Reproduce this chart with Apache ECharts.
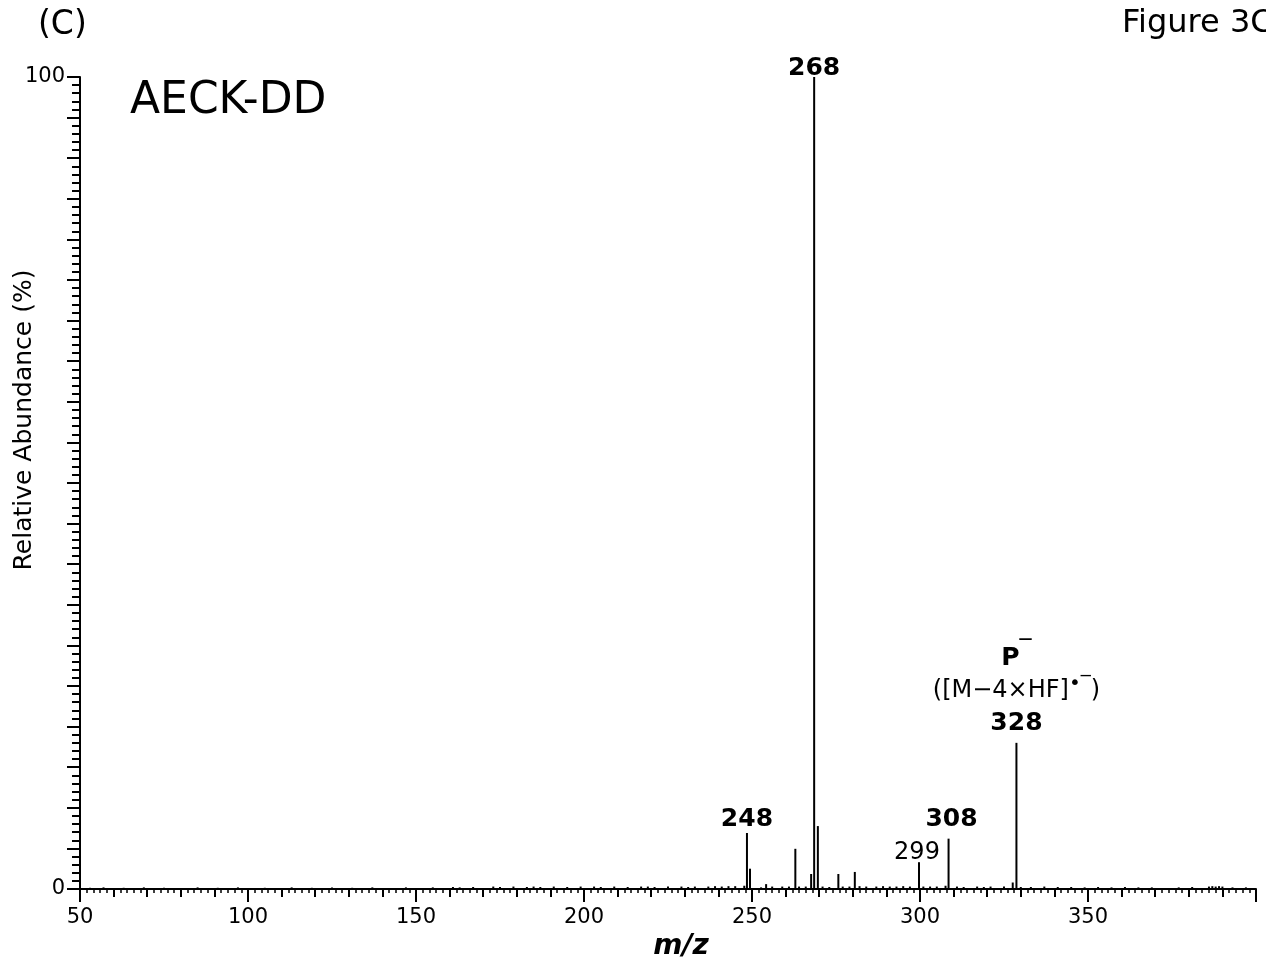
<!DOCTYPE html>
<html>
<head>
<meta charset="utf-8">
<script src="https://cdn.jsdelivr.net/npm/echarts@6/dist/echarts.min.js"></script>
<style>html,body{margin:0;padding:0;background:#fff}#c{width:1266px;height:967px}</style>
</head>
<body>
<div id="c"></div>
<script>
// Main peaks (m/z, relative abundance %)
var peakMz = [247.7, 248.5, 249.4, 252.7, 254.2, 262.9, 267.6, 268.5, 269.6, 275.7, 280.6, 299.7, 307.6, 308.5, 327.6, 328.7];
var peakAb = [0.4, 6.9, 2.5, 0.2, 0.6, 4.95, 1.85, 100, 7.75, 1.85, 2.1, 3.3, 0.4, 6.2, 0.8, 18.0];
// Small baseline noise peaks
var noiseMz = [53, 57, 63, 69, 75, 85, 91, 97, 105, 113, 119, 125, 131, 137, 147, 155, 161, 163, 167, 173, 175, 179, 183, 185, 187, 191, 195, 199, 203, 205, 209, 213, 217, 219, 221, 225, 229, 231, 233, 237, 239, 241, 243, 245, 256, 259, 261, 264, 266, 271, 273, 277, 279, 282, 284, 287, 289, 291, 293, 295, 297, 301, 303, 305, 311, 313, 317, 319, 321, 325, 330, 333, 337, 341, 345, 349, 353, 357, 361, 365, 369, 377, 381, 386, 387, 388, 389, 390, 393, 397];
var noiseAb = [0.15, 0.2, 0.15, 0.2, 0.15, 0.2, 0.15, 0.2, 0.15, 0.2, 0.15, 0.2, 0.15, 0.2, 0.2, 0.2, 0.25, 0.2, 0.25, 0.3, 0.25, 0.3, 0.25, 0.3, 0.25, 0.3, 0.25, 0.3, 0.3, 0.25, 0.3, 0.25, 0.3, 0.3, 0.25, 0.3, 0.3, 0.25, 0.3, 0.3, 0.35, 0.3, 0.35, 0.35, 0.3, 0.3, 0.3, 0.3, 0.3, 0.3, 0.25, 0.3, 0.3, 0.35, 0.3, 0.3, 0.35, 0.3, 0.3, 0.35, 0.3, 0.3, 0.3, 0.3, 0.3, 0.25, 0.3, 0.25, 0.3, 0.3, 0.25, 0.25, 0.3, 0.25, 0.25, 0.2, 0.25, 0.2, 0.25, 0.2, 0.2, 0.2, 0.25, 0.3, 0.35, 0.3, 0.35, 0.3, 0.2, 0.2];
// Annotated peaks
var labelMz = [248.5, 268.5, 299.7, 308.5, 328.7];
var labelText = ['{b|248}', '{b|268}', '{n|299}', '{b|308}', '{pb|P}{ov|‾}\n{n2|([M−4×HF]}{dot|•}{ov2|‾}{n2|)}\n{b3|328}'];
var labelShift = [[0, 2], [0, 6], [-2, 6], [3, -4], [0, 0]];
// Axis
var xMin = 50, xMax = 400, yMin = 0, yMax = 100;

var FF = 'DejaVu Sans';
var richStyles = {
  b: {fontFamily: FF, fontWeight: 'bold', fontSize: 25, color: '#000', lineHeight: 26},
  n: {fontFamily: FF, fontSize: 24, color: '#000', lineHeight: 26},
  b3: {fontFamily: FF, fontWeight: 'bold', fontSize: 25, color: '#000', lineHeight: 34},
  n2: {fontFamily: FF, fontSize: 24, color: '#000', lineHeight: 32},
  pb: {fontFamily: FF, fontWeight: 'bold', fontSize: 25, color: '#000', lineHeight: 32},
  ov: {fontFamily: FF, fontSize: 24, color: '#000', lineHeight: 32, padding: [0, 0, 16, 0]},
  dot: {fontFamily: FF, fontSize: 20, color: '#000', lineHeight: 32, padding: [0, 0, 14, 0]},
  ov2: {fontFamily: FF, fontSize: 20, color: '#000', lineHeight: 32, padding: [0, 0, 12, 0]}
};

var data = [];
for (var i = 0; i < noiseMz.length; i++) data.push([noiseMz[i], noiseAb[i]]);
for (var j = 0; j < peakMz.length; j++) {
  var item = {value: [peakMz[j], peakAb[j]]};
  var k = labelMz.indexOf(peakMz[j]);
  if (k >= 0) {
    item.label = {show: true, position: 'top', distance: 2, offset: labelShift[k],
      formatter: labelText[k], rich: richStyles, align: 'center'};
  }
  data.push(item);
}

var chart = echarts.init(document.getElementById('c'));
chart.setOption({
  animation: false,
  backgroundColor: '#fff',
  grid: {left: 80, right: 10, top: 77, bottom: 78, containLabel: false},
  xAxis: [{
    type: 'value', min: xMin, max: xMax, interval: 50, position: 'bottom',
    axisLine: {show: true, onZero: false, lineStyle: {color: '#000', width: 2}},
    axisTick: {show: true, length: 13, lineStyle: {color: '#000', width: 2}},
    axisLabel: {margin: 18, fontFamily: FF, fontSize: 21, color: '#000',
      formatter: function (v) { return v >= 400 ? '' : String(v); }},
    splitLine: {show: false}
  }, {
    type: 'value', min: xMin, max: xMax, interval: 10, position: 'bottom',
    axisLine: {show: false, onZero: false},
    axisTick: {show: true, length: 8, lineStyle: {color: '#000', width: 2}},
    minorTick: {show: true, splitNumber: 5, length: 4, lineStyle: {color: '#000', width: 1.5}},
    axisLabel: {show: false},
    splitLine: {show: false}
  }],
  yAxis: {
    type: 'value', min: yMin, max: yMax, interval: 5,
    axisLine: {show: true, lineStyle: {color: '#000', width: 2}},
    axisTick: {show: true, length: 13, lineStyle: {color: '#000', width: 2}},
    minorTick: {show: true, splitNumber: 5, length: 8, lineStyle: {color: '#000', width: 2}},
    axisLabel: {margin: 15, fontFamily: FF, fontSize: 21, color: '#000',
      formatter: function (v) { return (v === 0 || v === 100) ? String(v) : ''; }},
    splitLine: {show: false}
  },
  series: [{
    type: 'bar', xAxisIndex: 0, barWidth: 2, barGap: '-100%',
    itemStyle: {color: '#000'},
    data: data
  }],
  graphic: [
    {type: 'text', left: 38, top: 9, style: {text: '(C)', font: '33px "DejaVu Sans"', fill: '#000'}},
    {type: 'text', left: 1122, top: 8, style: {text: 'Figure 3C', font: '32px "DejaVu Sans"', fill: '#000'}},
    {type: 'text', left: 130, top: 80, style: {text: 'AECK-DD', font: '44px "DejaVu Sans"', fill: '#000'}},
    {type: 'text', x: 24, y: 420, rotation: Math.PI / 2,
      style: {text: 'Relative Abundance (%)', font: '25px "DejaVu Sans"', fill: '#000', align: 'center', verticalAlign: 'middle'}},
    {type: 'text', x: 681, y: 947,
      style: {text: 'm/z', font: 'italic bold 28px "DejaVu Sans"', fill: '#000', align: 'center', verticalAlign: 'middle'}}
  ]
});
</script>
</body>
</html>
